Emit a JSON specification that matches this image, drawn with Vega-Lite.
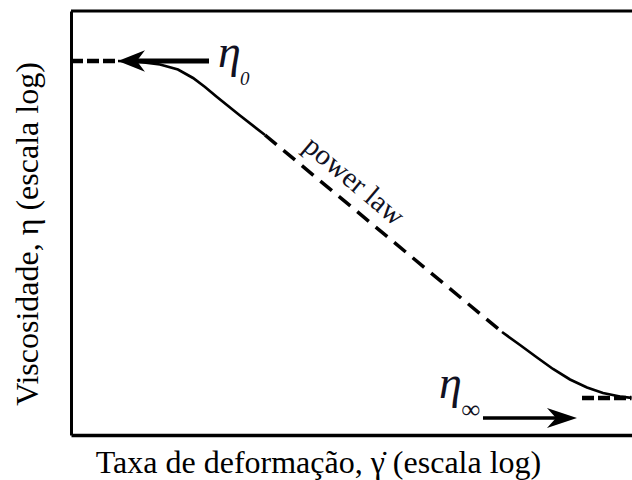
{
  "$schema": "https://vega.github.io/schema/vega-lite/v6.json",
  "width": 561,
  "height": 424,
  "autosize": {"type": "none"},
  "padding": {"left": 71, "top": 11, "right": 0, "bottom": 45},
  "background": "white",
  "config": {
    "view": {"stroke": null},
    "font": "Liberation Serif"
  },
  "datasets": {
    "curve": [
      {"seg": "plateau0", "x": 0.0, "y": 8.821},
      {"seg": "plateau0", "x": 0.838, "y": 8.821},
      {"seg": "shear1", "x": 0.838, "y": 8.821},
      {"seg": "shear1", "x": 1.23, "y": 8.802},
      {"seg": "shear1", "x": 1.586, "y": 8.738},
      {"seg": "shear1", "x": 1.907, "y": 8.62},
      {"seg": "shear1", "x": 2.175, "y": 8.42},
      {"seg": "shear1", "x": 2.389, "y": 8.208},
      {"seg": "shear1", "x": 2.602, "y": 7.972},
      {"seg": "shear1", "x": 3.012, "y": 7.535},
      {"seg": "shear1", "x": 3.458, "y": 7.075},
      {"seg": "powerlaw", "x": 3.458, "y": 7.075},
      {"seg": "powerlaw", "x": 7.683, "y": 2.429},
      {"seg": "shear2", "x": 7.683, "y": 2.429},
      {"seg": "shear2", "x": 8.004, "y": 2.123},
      {"seg": "shear2", "x": 8.307, "y": 1.828},
      {"seg": "shear2", "x": 8.592, "y": 1.557},
      {"seg": "shear2", "x": 8.895, "y": 1.309},
      {"seg": "shear2", "x": 9.198, "y": 1.12},
      {"seg": "shear2", "x": 9.483, "y": 0.991},
      {"seg": "shear2", "x": 9.786, "y": 0.908},
      {"seg": "shear2", "x": 9.99, "y": 0.875},
      {"seg": "plateauInf", "x": 9.109, "y": 0.873},
      {"seg": "plateauInf", "x": 9.99, "y": 0.873}
    ],
    "arrows": [
      {"name": "eta0", "x1": 1.07, "x2": 2.46, "y": 8.821, "head": 1.078},
      {"name": "etaInf", "x1": 7.344, "x2": 8.806, "y": 0.401, "head": 8.752}
    ],
    "labels": [
      {"name": "eta0", "text": "η", "x": 2.62, "y": 8.679, "sub": "0", "sx": 3.012, "sy": 8.255},
      {"name": "etaInf", "text": "η", "x": 6.56, "y": 0.873, "sub": "∞", "sx": 6.96, "sy": 0.401}
    ]
  },
  "layer": [
    {
      "data": {"name": "curve"},
      "transform": [{"filter": "datum.seg === 'shear1' || datum.seg === 'shear2'"}],
      "mark": {"type": "line", "color": "black", "strokeWidth": 2.7, "strokeCap": "butt"},
      "encoding": {
        "x": {
          "field": "x", "type": "quantitative",
          "scale": {"domain": [0, 10], "nice": false, "zero": false},
          "axis": {
            "title": "Taxa de deformação, γ̇ (escala log)",
            "titleFont": "Liberation Serif", "titleFontSize": 32, "titleFontWeight": "normal",
            "titleColor": "black", "titleBaseline": "alphabetic",
            "titleX": 247, "titleY": 37, "titleAlign": "center",
            "domain": true, "domainColor": "black", "domainWidth": 3.5,
            "ticks": false, "labels": false, "grid": false
          }
        },
        "y": {
          "field": "y", "type": "quantitative",
          "scale": {"domain": [0, 10], "nice": false, "zero": false},
          "axis": {
            "title": "Viscosidade, η (escala log)",
            "titleFont": "Liberation Serif", "titleFontSize": 32, "titleFontWeight": "normal",
            "titleColor": "black", "titleBaseline": "alphabetic", "titleAngle": -90,
            "titleX": -34, "titleY": 222.5, "titleAlign": "center",
            "domain": true, "domainColor": "black", "domainWidth": 3,
            "ticks": false, "labels": false, "grid": false
          }
        },
        "detail": {"field": "seg"}
      }
    },
    {
      "data": {"name": "curve"},
      "transform": [{"filter": "datum.seg === 'powerlaw'"}],
      "mark": {"type": "line", "color": "black", "strokeWidth": 3.5, "strokeDash": [15, 9], "strokeCap": "butt"},
      "encoding": {
        "x": {"field": "x", "type": "quantitative"},
        "y": {"field": "y", "type": "quantitative"}
      }
    },
    {
      "data": {"name": "curve"},
      "transform": [{"filter": "datum.seg === 'plateau0' || datum.seg === 'plateauInf'"}],
      "mark": {"type": "line", "color": "black", "strokeWidth": 4.5, "strokeDash": [12, 4], "strokeCap": "butt"},
      "encoding": {
        "x": {"field": "x", "type": "quantitative"},
        "y": {"field": "y", "type": "quantitative"},
        "detail": {"field": "seg"}
      }
    },
    {
      "data": {"name": "arrows"},
      "transform": [{"filter": "datum.name === 'eta0'"}],
      "mark": {"type": "rule", "color": "black", "strokeWidth": 5},
      "encoding": {
        "x": {"field": "x1", "type": "quantitative"},
        "x2": {"field": "x2"},
        "y": {"field": "y", "type": "quantitative"}
      }
    },
    {
      "data": {"name": "arrows"},
      "transform": [{"filter": "datum.name === 'etaInf'"}],
      "mark": {"type": "rule", "color": "black", "strokeWidth": 3.5},
      "encoding": {
        "x": {"field": "x1", "type": "quantitative"},
        "x2": {"field": "x2"},
        "y": {"field": "y", "type": "quantitative"}
      }
    },
    {
      "data": {"name": "arrows"},
      "transform": [{"filter": "datum.name === 'eta0'"}],
      "mark": {"type": "point", "shape": "M-1,0L1,-0.8L0.4,0L1,0.8Z", "filled": true, "color": "black", "opacity": 1, "size": 729},
      "encoding": {
        "x": {"field": "head", "type": "quantitative"},
        "y": {"field": "y", "type": "quantitative"}
      }
    },
    {
      "data": {"name": "arrows"},
      "transform": [{"filter": "datum.name === 'etaInf'"}],
      "mark": {"type": "point", "shape": "M1,0L-1,-0.67L-0.4,0L-1,0.67Z", "filled": true, "color": "black", "opacity": 1, "size": 900},
      "encoding": {
        "x": {"field": "head", "type": "quantitative"},
        "y": {"field": "y", "type": "quantitative"}
      }
    },
    {
      "data": {"name": "labels"},
      "mark": {"type": "text", "font": "Liberation Serif", "fontStyle": "italic", "fontSize": 46, "align": "left", "baseline": "alphabetic", "color": "#111122"},
      "encoding": {
        "x": {"field": "x", "type": "quantitative"},
        "y": {"field": "y", "type": "quantitative"},
        "text": {"field": "text"}
      }
    },
    {
      "data": {"name": "labels"},
      "transform": [{"filter": "datum.name === 'eta0'"}],
      "mark": {"type": "text", "font": "Liberation Serif", "fontStyle": "italic", "fontSize": 19, "align": "left", "baseline": "alphabetic", "color": "#111122"},
      "encoding": {
        "x": {"field": "sx", "type": "quantitative"},
        "y": {"field": "sy", "type": "quantitative"},
        "text": {"field": "sub"}
      }
    },
    {
      "data": {"name": "labels"},
      "transform": [{"filter": "datum.name === 'etaInf'"}],
      "mark": {"type": "text", "font": "Liberation Serif", "fontStyle": "italic", "fontSize": 26, "align": "left", "baseline": "alphabetic", "color": "#111122"},
      "encoding": {
        "x": {"field": "sx", "type": "quantitative"},
        "y": {"field": "sy", "type": "quantitative"},
        "text": {"field": "sub"}
      }
    },
    {
      "data": {"values": [{"text": "power law", "x": 5.045, "y": 5.991}]},
      "mark": {"type": "text", "font": "Liberation Serif", "fontSize": 29, "angle": 40, "align": "center", "baseline": "middle", "color": "#111122"},
      "encoding": {
        "x": {"field": "x", "type": "quantitative"},
        "y": {"field": "y", "type": "quantitative"},
        "text": {"field": "text"}
      }
    },
    {
      "data": {"values": [{"edge": 10}]},
      "mark": {"type": "rule", "color": "black", "strokeWidth": 3},
      "encoding": {
        "y": {"field": "edge", "type": "quantitative"}
      }
    }
  ]
}
